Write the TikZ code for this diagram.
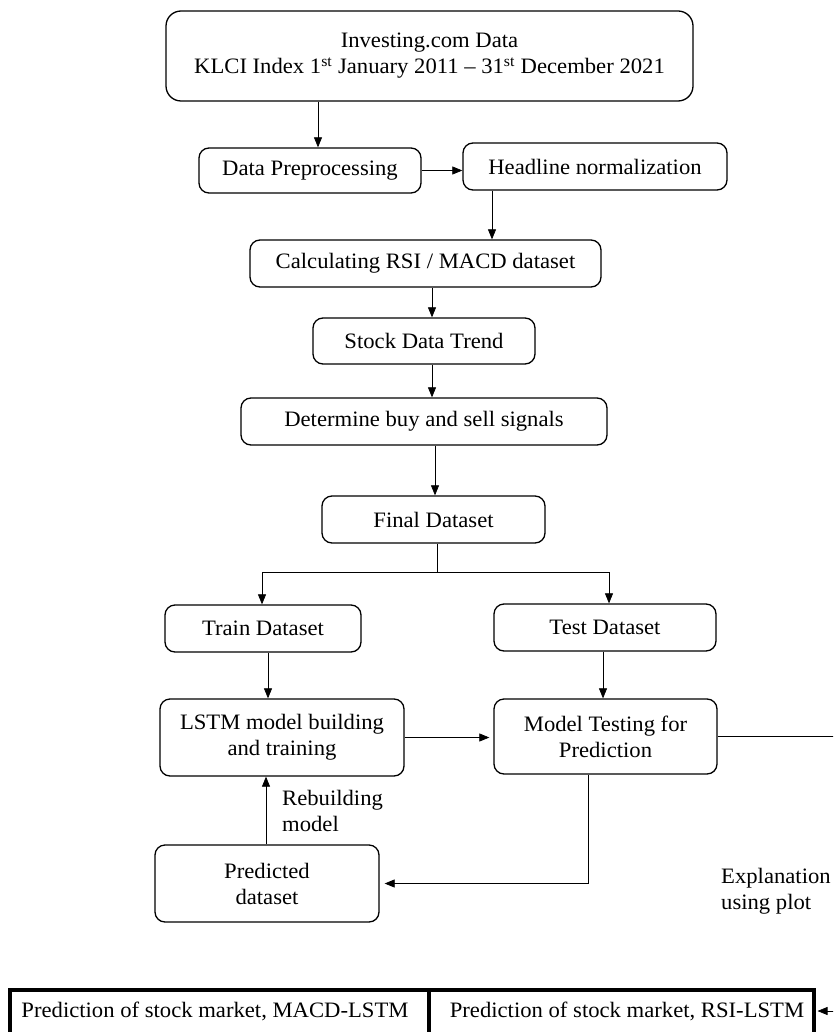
\documentclass[tikz,border=0pt]{standalone}
\usepackage{fontspec}
\setmainfont[FakeStretch=1.03]{Liberation Serif}
\usetikzlibrary{arrows.meta,calc}
\begin{document}
\begin{tikzpicture}[x=1pt,y=-1pt,
  box/.style={draw, rounded corners=10pt, line width=1.3pt, align=center, inner sep=0pt,
    font=\fontsize{22}{26}\selectfont},
  arr/.style={-{Triangle[length=10pt,width=8pt]}, line width=0.7pt},
  plain/.style={line width=0.7pt},
  txt/.style={align=left, inner sep=0pt, font=\fontsize{22}{26}\selectfont},
  bigbox/.style={draw, line width=3.5pt}
]
\useasboundingbox (0,0) rectangle (833,1032);
\clip (0,0) rectangle (833,1032);
\fill[white] (0,0) rectangle (833,1032);

\node[box, rounded corners=15pt, minimum width=527pt, minimum height=90pt] (top) at (429.5,56)
  {Investing.com Data\\KLCI Index 1\textsuperscript{st} January 2011 -- 31\textsuperscript{st} December 2021};
\node[box, minimum width=222pt, minimum height=45pt] (dp) at (310,170.5) {Data Preprocessing};
\node[box, minimum width=264pt, minimum height=47pt] (hn) at (595,166.5) {Headline normalization};
\node[box, minimum width=351pt, minimum height=47pt] (calc) at (425.5,263.5) {Calculating RSI / MACD dataset};
\node[box, minimum width=222pt, minimum height=46pt] (sdt) at (424,341) {Stock Data Trend};
\node[box, minimum width=366pt, minimum height=47pt] (dbs) at (424,421.5) {Determine buy and sell signals};
\node[box, minimum width=223pt, minimum height=47pt] (fd) at (433.5,519.5) {Final Dataset};
\node[box, minimum width=196pt, minimum height=47pt] (train) at (263,628.5) {Train Dataset};
\node[box, minimum width=222pt, minimum height=47pt] (test) at (605,627.5) {Test Dataset};
\node[box, minimum width=244pt, minimum height=77pt] (lstm) at (282,737.5) {LSTM model building\\and training};
\node[box, minimum width=223pt, minimum height=75pt] (mt) at (605.5,736.5) {Model Testing for\\Prediction};
\node[box, minimum width=224pt, minimum height=77pt] (pred) at (267,883.5) {Predicted\\dataset};

\node[txt, anchor=west] (rebuild) at (282,811) {Rebuilding\\model};
\node[txt, anchor=west] (expl) at (721,891) {Explanation\\using plot};

\node[bigbox, minimum width=419pt, minimum height=80pt, anchor=north west, inner sep=0pt] (macd) at (8,988) {};
\node[bigbox, minimum width=385pt, minimum height=80pt, anchor=north west, inner sep=0pt] (rsi) at (427,988) {};
\node[txt] (macdt) at (215,1011) {Prediction of stock market, MACD-LSTM};
\node[txt] (rsit) at (627,1011) {Prediction of stock market, RSI-LSTM};

\coordinate (redge) at (850,0);
\coordinate (split) at (437,572);
\coordinate (rsiin) at (850,1011);

\draw[arr] ([xshift=-111.5pt]top.south) -- ([xshift=8pt]dp.north);
\draw[arr] (dp.east) -- (dp.east -| hn.west);
\draw[arr] ([xshift=-103pt]hn.south) -- ([xshift=-103pt]hn.south |- calc.north);
\draw[arr] ([xshift=6.5pt]calc.south) -- ([xshift=6.5pt]calc.south |- sdt.north);
\draw[arr] ([xshift=8pt]sdt.south) -- ([xshift=8pt]sdt.south |- dbs.north);
\draw[arr] ([xshift=11pt]dbs.south) -- ([xshift=11pt]dbs.south |- fd.north);
\draw[plain] ([xshift=3.5pt]fd.south) -- (split);
\draw[arr] (split) -| ([xshift=-1pt]train.north);
\draw[arr] (split) -| ([xshift=4pt]test.north);
\draw[arr] ([xshift=5pt]train.south) -- ([xshift=5pt]train.south |- lstm.north);
\draw[arr] ([xshift=-2pt]test.south) -- ([xshift=-2pt]test.south |- mt.north);
\draw[arr] (lstm.east) -- ([xshift=-4pt]lstm.east -| mt.west);
\draw[plain] (mt.east) -- (mt.east -| redge);
\draw[arr] ([xshift=-17.5pt]mt.south) |- ([xshift=5pt]pred.east);
\draw[arr] ([xshift=-1pt]pred.north) -- ([xshift=-1pt]pred.north |- lstm.south);
\draw[arr] (rsiin) -- ([xshift=2pt]rsiin -| rsi.east);
\end{tikzpicture}
\end{document}
